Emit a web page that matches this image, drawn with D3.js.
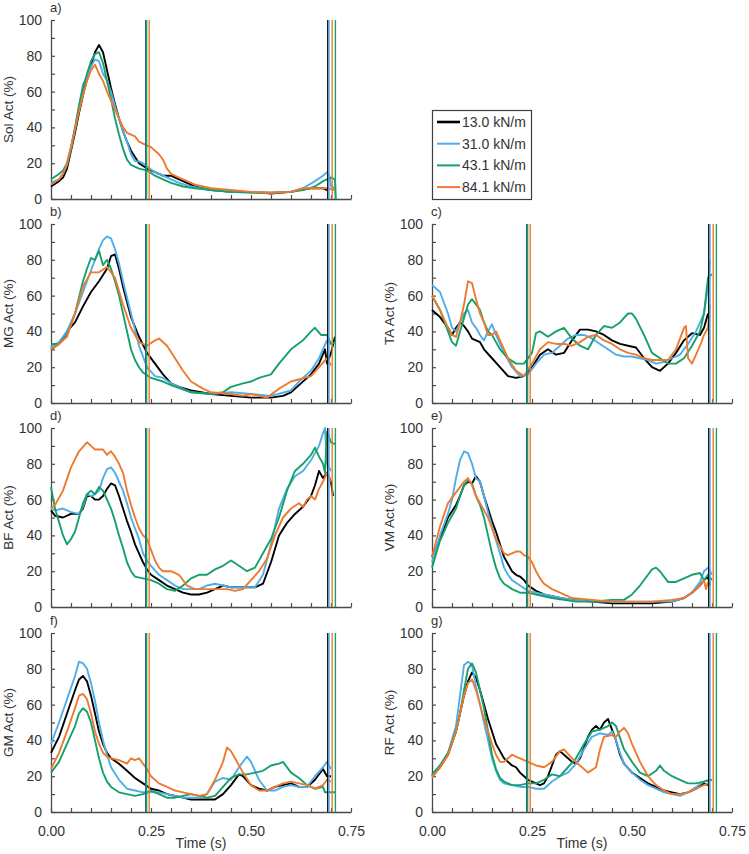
<!DOCTYPE html>
<html><head><meta charset="utf-8">
<script src="https://cdn.jsdelivr.net/npm/d3@7"></script>
<style>body{margin:0;background:#fff}svg{display:block;font-family:"Liberation Sans",Arial,sans-serif}</style>
</head><body><svg id="c" width="749" height="854"></svg>
<script>
// ---- series (legend) ----
const seriesNames = ["13.0 kN/m","31.0 kN/m","43.1 kN/m","84.1 kN/m"];
const seriesColors = ["#000000","#4FAEE9","#16A06A","#EE7A30"];
// vertical event lines (s) per series
const eventA = [0.237,0.238,0.239,0.2455];
const eventB = [0.692,0.695,0.711,0.703];
const xTickLabels = [0,0.25,0.5,0.75];

// ---- Sol ----
const sol13=[[0,7],[0.02,10],[0.03,12],[0.04,17],[0.05,27],[0.06,37],[0.07,48],[0.08,58],[0.09,67],[0.10,75],[0.11,82],[0.12,86],[0.13,82],[0.14,72],[0.15,62],[0.16,53],[0.17,45],[0.18,38],[0.19,32],[0.20,27],[0.22,20],[0.24,17],[0.26,15],[0.28,13],[0.30,13],[0.32,11],[0.34,9],[0.36,7],[0.40,5],[0.45,4],[0.50,4],[0.55,3],[0.60,4],[0.62,5],[0.65,6],[0.68,6],[0.69,5]];
const sol31=[[0,9],[0.02,11],[0.03,14],[0.04,19],[0.05,28],[0.06,39],[0.07,52],[0.08,64],[0.09,68],[0.10,74],[0.11,78],[0.12,77],[0.13,70],[0.14,66],[0.15,60],[0.16,52],[0.17,45],[0.18,38],[0.19,32],[0.20,25],[0.21,21],[0.22,21],[0.23,20],[0.24,18],[0.26,15],[0.28,13],[0.30,11],[0.32,9],[0.35,7],[0.40,5],[0.45,4],[0.50,4],[0.55,3.5],[0.60,4],[0.63,6],[0.66,10],[0.68,13],[0.69,15],[0.695,14],[0.70,7],[0.71,6]];
const sol43=[[0,11],[0.02,14],[0.03,16],[0.04,20],[0.05,29],[0.06,40],[0.07,52],[0.08,62],[0.09,70],[0.10,77],[0.11,81],[0.12,82],[0.13,76],[0.14,66],[0.15,56],[0.16,45],[0.17,36],[0.18,28],[0.19,22],[0.20,19],[0.22,17],[0.24,16],[0.26,13],[0.28,11],[0.30,9],[0.33,7],[0.36,6],[0.40,5],[0.45,4],[0.50,3.5],[0.55,3.5],[0.60,4],[0.63,5],[0.66,7],[0.68,10],[0.70,12],[0.71,11],[0.712,0]];
const sol84=[[0,8],[0.02,11],[0.03,14],[0.04,20],[0.05,29],[0.06,39],[0.07,49],[0.08,58],[0.09,66],[0.10,72],[0.11,75],[0.12,70],[0.13,66],[0.14,60],[0.15,55],[0.16,50],[0.17,45],[0.18,40],[0.19,37],[0.20,36],[0.21,35],[0.22,32],[0.23,31],[0.24,30],[0.25,29],[0.26,27],[0.27,25],[0.28,22],[0.29,17],[0.30,14],[0.32,12],[0.34,10],[0.36,8],[0.40,6],[0.45,5],[0.50,4],[0.55,3.5],[0.60,4],[0.63,6],[0.66,6],[0.69,6],[0.71,5]];

// ---- MG ----
const mg13=[[0,30],[0.02,33],[0.04,40],[0.06,45],[0.08,54],[0.10,62],[0.12,68],[0.14,75],[0.15,82],[0.16,83],[0.17,75],[0.18,65],[0.20,48],[0.22,37],[0.24,28],[0.26,22],[0.28,16],[0.30,11],[0.32,9],[0.35,7],[0.40,5],[0.45,4],[0.50,3],[0.55,3],[0.58,4],[0.60,6],[0.62,10],[0.65,16],[0.67,22],[0.685,30],[0.69,22],[0.70,28],[0.71,37]];
const mg31=[[0,31],[0.02,34],[0.04,40],[0.06,50],[0.08,62],[0.10,74],[0.12,86],[0.13,91],[0.14,93],[0.15,92],[0.16,86],[0.17,78],[0.18,68],[0.20,50],[0.22,32],[0.24,20],[0.26,15],[0.28,14],[0.30,11],[0.35,6],[0.40,5],[0.45,6],[0.50,5],[0.55,4],[0.60,7],[0.62,12],[0.65,18],[0.67,25],[0.69,35],[0.70,33]];
const mg43=[[0,33],[0.02,33],[0.04,38],[0.06,50],[0.08,68],[0.09,75],[0.10,81],[0.11,80],[0.12,85],[0.13,77],[0.14,80],[0.15,75],[0.16,68],[0.17,60],[0.18,50],[0.19,40],[0.20,30],[0.21,24],[0.22,20],[0.23,17],[0.25,14],[0.28,12],[0.30,10],[0.35,6],[0.40,5],[0.43,6],[0.45,9],[0.48,11],[0.50,12],[0.52,14],[0.55,16],[0.57,22],[0.60,30],[0.63,35],[0.65,40],[0.66,42],[0.675,38],[0.69,38],[0.70,33],[0.71,34]];
const mg84=[[0,30],[0.02,33],[0.04,37],[0.06,50],[0.08,65],[0.10,73],[0.12,73],[0.14,76],[0.16,70],[0.18,55],[0.20,42],[0.22,34],[0.24,32],[0.26,35],[0.27,36],[0.29,32],[0.31,25],[0.33,18],[0.35,12],[0.38,8],[0.40,6],[0.45,5],[0.48,4],[0.50,5],[0.54,3],[0.57,8],[0.60,12],[0.65,15],[0.67,20],[0.69,25],[0.70,21]];

// ---- TA ----
const ta13=[[0,52],[0.02,48],[0.04,42],[0.05,38],[0.06,42],[0.07,45],[0.08,43],[0.09,40],[0.10,36],[0.12,34],[0.13,30],[0.15,25],[0.17,20],[0.19,15],[0.21,14],[0.23,15],[0.25,20],[0.27,27],[0.29,30],[0.31,27],[0.33,28],[0.35,35],[0.37,41],[0.39,41],[0.41,40],[0.43,38],[0.45,35],[0.47,33],[0.49,32],[0.51,31],[0.53,25],[0.55,20],[0.57,18],[0.59,22],[0.61,28],[0.63,35],[0.65,39],[0.67,38],[0.68,42],[0.69,50]];
const ta31=[[0,66],[0.02,62],[0.04,50],[0.05,42],[0.06,40],[0.08,50],[0.09,52],[0.10,45],[0.11,42],[0.12,38],[0.13,35],[0.14,40],[0.15,44],[0.16,38],[0.18,28],[0.20,20],[0.22,15],[0.24,16],[0.26,22],[0.28,27],[0.30,28],[0.32,32],[0.34,36],[0.36,38],[0.38,38],[0.40,36],[0.42,33],[0.44,30],[0.46,27],[0.48,26],[0.50,26],[0.52,25],[0.54,24],[0.56,22],[0.58,23],[0.60,25],[0.62,27],[0.64,33],[0.66,40],[0.67,45],[0.68,50],[0.69,65],[0.695,80]];
const ta43=[[0,60],[0.02,52],[0.04,40],[0.05,34],[0.06,32],[0.07,40],[0.09,55],[0.10,58],[0.11,55],[0.12,52],[0.13,45],[0.14,40],[0.15,38],[0.16,34],[0.17,30],[0.19,25],[0.21,22],[0.23,22],[0.25,28],[0.26,39],[0.27,40],[0.29,37],[0.31,40],[0.33,42],[0.35,36],[0.37,32],[0.39,30],[0.41,38],[0.43,43],[0.45,42],[0.47,45],[0.49,50],[0.50,50],[0.51,47],[0.53,38],[0.55,28],[0.57,25],[0.59,22],[0.61,22],[0.63,25],[0.65,32],[0.67,40],[0.68,50],[0.69,70],[0.70,72]];
const ta84=[[0,60],[0.02,52],[0.04,42],[0.05,38],[0.06,37],[0.07,45],[0.08,55],[0.09,68],[0.10,67],[0.11,58],[0.12,50],[0.13,45],[0.14,38],[0.15,38],[0.16,40],[0.17,35],[0.19,25],[0.21,18],[0.23,15],[0.25,22],[0.27,30],[0.29,34],[0.31,33],[0.33,33],[0.35,32],[0.37,34],[0.39,37],[0.41,38],[0.43,35],[0.45,33],[0.47,30],[0.49,28],[0.51,27],[0.53,25],[0.55,24],[0.57,24],[0.59,24],[0.61,30],[0.63,42],[0.635,43],[0.64,25],[0.65,22],[0.67,32],[0.68,38],[0.69,42],[0.695,55]];

// ---- BF ----
const bf13=[[0,54],[0.01,51],[0.03,50],[0.05,52],[0.07,52],[0.08,55],[0.09,62],[0.10,62],[0.11,60],[0.12,60],[0.13,62],[0.14,66],[0.15,69],[0.16,68],[0.17,62],[0.18,55],[0.19,48],[0.20,42],[0.21,35],[0.22,30],[0.23,25],[0.24,21],[0.25,18],[0.27,15],[0.29,12],[0.31,10],[0.33,8],[0.35,7],[0.37,7],[0.39,8],[0.41,10],[0.43,12],[0.45,11],[0.47,11],[0.49,11],[0.51,11],[0.53,13],[0.55,25],[0.57,40],[0.59,47],[0.61,52],[0.63,56],[0.65,62],[0.66,68],[0.67,76],[0.68,72],[0.69,75],[0.70,70],[0.705,62]];
const bf31=[[0,55],[0.01,54],[0.03,55],[0.05,53],[0.07,52],[0.08,56],[0.09,63],[0.10,62],[0.11,63],[0.12,65],[0.13,72],[0.14,77],[0.15,78],[0.16,75],[0.17,70],[0.18,65],[0.19,58],[0.20,50],[0.21,44],[0.22,38],[0.23,30],[0.24,26],[0.25,23],[0.27,18],[0.29,15],[0.31,12],[0.33,10],[0.35,10],[0.37,10],[0.39,12],[0.41,13],[0.43,12],[0.45,11],[0.47,11],[0.49,11],[0.51,11],[0.53,18],[0.55,35],[0.57,55],[0.59,66],[0.61,73],[0.63,76],[0.65,82],[0.67,90],[0.68,97],[0.685,100],[0.69,80],[0.70,76]];
const bf43=[[0,67],[0.01,55],[0.03,40],[0.04,35],[0.05,38],[0.06,42],[0.07,50],[0.08,58],[0.09,63],[0.10,65],[0.11,63],[0.12,67],[0.13,65],[0.14,60],[0.15,55],[0.16,48],[0.17,40],[0.18,33],[0.19,25],[0.20,20],[0.21,17],[0.23,16],[0.25,15],[0.27,13],[0.29,10],[0.31,9],[0.33,12],[0.35,16],[0.37,18],[0.39,18],[0.41,21],[0.43,23],[0.45,26],[0.47,23],[0.49,20],[0.51,22],[0.53,30],[0.55,38],[0.57,50],[0.59,65],[0.61,76],[0.63,80],[0.65,85],[0.66,89],[0.67,84],[0.68,80],[0.685,75],[0.69,98],[0.70,92],[0.71,91]];
const bf84=[[0,55],[0.01,57],[0.03,65],[0.05,78],[0.07,87],[0.09,92],[0.10,90],[0.11,88],[0.13,88],[0.14,85],[0.15,87],[0.16,84],[0.17,80],[0.18,75],[0.19,65],[0.20,57],[0.21,50],[0.22,44],[0.23,40],[0.24,38],[0.25,32],[0.26,26],[0.27,22],[0.28,20],[0.30,20],[0.32,18],[0.34,12],[0.36,10],[0.38,10],[0.40,10],[0.42,10],[0.44,10],[0.46,9],[0.48,10],[0.50,15],[0.52,20],[0.54,27],[0.56,40],[0.58,50],[0.60,55],[0.62,58],[0.63,56],[0.64,60],[0.65,62],[0.66,60],[0.67,66],[0.68,70],[0.69,75],[0.70,70]];

// ---- VM ----
const vm13=[[0,28],[0.02,38],[0.04,50],[0.06,57],[0.07,62],[0.08,68],[0.09,70],[0.10,69],[0.11,73],[0.12,70],[0.13,62],[0.14,55],[0.15,48],[0.16,42],[0.17,35],[0.18,28],[0.19,24],[0.20,20],[0.21,18],[0.22,17],[0.23,15],[0.24,12],[0.26,9],[0.28,7],[0.30,6],[0.32,5],[0.35,4],[0.40,3],[0.45,2],[0.50,2],[0.55,2],[0.60,3],[0.63,5],[0.65,8],[0.67,12],[0.68,15],[0.69,17],[0.695,12]];
const vm31=[[0,25],[0.02,40],[0.04,52],[0.05,60],[0.06,72],[0.07,82],[0.08,87],[0.09,86],[0.10,80],[0.11,72],[0.12,70],[0.13,62],[0.14,53],[0.15,45],[0.16,37],[0.17,30],[0.18,22],[0.19,18],[0.20,15],[0.22,12],[0.24,9],[0.26,8],[0.28,7],[0.30,6],[0.35,4],[0.40,3],[0.45,3],[0.50,3],[0.55,3],[0.60,3],[0.63,5],[0.65,8],[0.67,14],[0.68,20],[0.69,22],[0.70,18]];
const vm43=[[0,22],[0.02,37],[0.04,47],[0.06,55],[0.07,62],[0.08,68],[0.09,71],[0.10,69],[0.11,62],[0.12,57],[0.13,50],[0.14,40],[0.15,30],[0.16,22],[0.17,16],[0.18,13],[0.20,10],[0.22,8],[0.24,8],[0.26,7],[0.28,6],[0.30,5],[0.33,4],[0.36,3],[0.40,3],[0.45,4],[0.48,4],[0.50,7],[0.52,12],[0.54,18],[0.55,21],[0.56,22],[0.57,20],[0.58,17],[0.59,14],[0.61,14],[0.63,16],[0.65,18],[0.67,19],[0.68,15],[0.69,18],[0.70,15]];
const vm84=[[0,28],[0.02,45],[0.04,58],[0.06,64],[0.08,70],[0.09,72],[0.10,68],[0.11,62],[0.12,58],[0.13,54],[0.14,50],[0.15,44],[0.16,38],[0.17,34],[0.18,30],[0.19,29],[0.20,30],[0.21,31],[0.22,31],[0.23,29],[0.24,28],[0.25,25],[0.26,20],[0.27,16],[0.28,13],[0.30,10],[0.32,8],[0.35,5],[0.40,4],[0.45,3],[0.50,3],[0.55,3],[0.60,4],[0.63,5],[0.65,8],[0.67,12],[0.68,15],[0.685,10],[0.69,14]];

// ---- GM ----
const gm13=[[0,33],[0.02,42],[0.04,55],[0.06,68],[0.07,74],[0.08,76],[0.09,73],[0.10,65],[0.11,55],[0.12,45],[0.13,38],[0.14,33],[0.15,30],[0.17,27],[0.19,23],[0.21,19],[0.23,16],[0.25,13],[0.27,12],[0.29,10],[0.31,9],[0.33,8],[0.35,7],[0.38,7],[0.41,7],[0.43,10],[0.45,15],[0.47,21],[0.48,20],[0.50,15],[0.52,13],[0.54,12],[0.56,14],[0.58,15],[0.60,16],[0.62,14],[0.64,14],[0.66,18],[0.68,24],[0.69,20],[0.70,20]];
const gm31=[[0,38],[0.02,50],[0.04,63],[0.06,76],[0.07,84],[0.08,83],[0.09,80],[0.10,72],[0.11,62],[0.12,50],[0.13,40],[0.14,32],[0.15,25],[0.17,18],[0.19,13],[0.21,12],[0.23,11],[0.25,11],[0.27,11],[0.29,10],[0.31,9],[0.33,8],[0.35,8],[0.37,8],[0.39,10],[0.41,17],[0.43,19],[0.45,18],[0.47,25],[0.49,31],[0.50,28],[0.52,18],[0.54,12],[0.56,12],[0.58,14],[0.60,15],[0.62,14],[0.64,14],[0.66,20],[0.68,25],[0.69,28],[0.70,24]];
const gm43=[[0,22],[0.02,28],[0.04,38],[0.06,48],[0.07,55],[0.08,58],[0.09,56],[0.10,50],[0.11,40],[0.12,30],[0.13,22],[0.14,17],[0.15,14],[0.17,11],[0.19,10],[0.21,9],[0.23,10],[0.25,12],[0.27,10],[0.29,8],[0.31,8],[0.33,9],[0.35,10],[0.37,9],[0.39,8],[0.41,9],[0.43,14],[0.45,19],[0.47,21],[0.49,21],[0.51,22],[0.53,23],[0.55,26],[0.57,27],[0.58,28],[0.60,22],[0.62,19],[0.64,15],[0.66,13],[0.68,14],[0.685,11],[0.70,11],[0.71,11]];
const gm84=[[0,24],[0.02,33],[0.04,45],[0.06,58],[0.07,65],[0.08,66],[0.09,63],[0.10,55],[0.11,45],[0.12,38],[0.13,33],[0.14,31],[0.15,30],[0.17,29],[0.19,27],[0.20,30],[0.21,29],[0.22,30],[0.23,27],[0.24,24],[0.25,20],[0.27,16],[0.29,14],[0.31,12],[0.33,11],[0.35,10],[0.37,9],[0.39,10],[0.41,18],[0.43,28],[0.44,36],[0.45,34],[0.46,30],[0.48,22],[0.50,15],[0.52,12],[0.54,12],[0.56,14],[0.58,16],[0.60,17],[0.62,16],[0.64,15],[0.66,13],[0.68,15],[0.69,18],[0.70,17]];

// ---- RF ----
const rf13=[[0,20],[0.02,25],[0.04,32],[0.06,45],[0.07,55],[0.08,65],[0.09,73],[0.10,78],[0.11,75],[0.12,68],[0.13,60],[0.14,52],[0.15,45],[0.16,38],[0.17,34],[0.18,30],[0.19,28],[0.20,26],[0.21,25],[0.22,22],[0.23,20],[0.24,18],[0.25,17],[0.26,16],[0.27,15],[0.28,16],[0.29,20],[0.30,26],[0.31,32],[0.32,34],[0.33,32],[0.34,30],[0.35,28],[0.36,27],[0.37,30],[0.38,36],[0.39,42],[0.40,46],[0.41,48],[0.42,46],[0.43,50],[0.44,52],[0.45,46],[0.46,40],[0.47,32],[0.48,27],[0.50,22],[0.52,19],[0.54,16],[0.56,14],[0.58,12],[0.60,11],[0.62,10],[0.64,11],[0.66,13],[0.68,16],[0.69,15]];
const rf31=[[0,20],[0.02,26],[0.04,33],[0.06,48],[0.07,65],[0.08,82],[0.09,84],[0.10,82],[0.11,70],[0.12,60],[0.13,50],[0.14,40],[0.15,30],[0.16,23],[0.17,18],[0.18,16],[0.20,15],[0.22,14],[0.24,14],[0.26,13],[0.28,13],[0.30,17],[0.32,20],[0.34,22],[0.36,27],[0.38,35],[0.40,42],[0.42,44],[0.44,43],[0.45,45],[0.46,40],[0.47,33],[0.48,27],[0.50,22],[0.52,18],[0.54,15],[0.56,13],[0.58,11],[0.60,10],[0.62,9],[0.64,11],[0.66,14],[0.68,17],[0.69,18]];
const rf43=[[0,21],[0.02,26],[0.04,33],[0.06,45],[0.07,55],[0.08,68],[0.09,80],[0.10,83],[0.11,78],[0.12,68],[0.13,58],[0.14,45],[0.15,32],[0.16,24],[0.17,19],[0.18,17],[0.20,15],[0.22,15],[0.24,16],[0.26,16],[0.28,18],[0.30,21],[0.32,20],[0.34,25],[0.36,30],[0.38,38],[0.40,45],[0.42,46],[0.44,48],[0.45,50],[0.46,48],[0.48,35],[0.50,28],[0.52,22],[0.54,20],[0.56,23],[0.57,26],[0.58,23],[0.60,20],[0.62,18],[0.64,16],[0.66,16],[0.68,17],[0.70,18]];
const rf84=[[0,19],[0.02,25],[0.04,32],[0.06,45],[0.07,55],[0.08,65],[0.09,72],[0.10,74],[0.11,68],[0.12,60],[0.13,52],[0.14,45],[0.15,38],[0.16,32],[0.17,28],[0.18,28],[0.19,30],[0.20,32],[0.21,31],[0.22,30],[0.24,28],[0.26,26],[0.28,25],[0.30,28],[0.32,34],[0.33,35],[0.35,30],[0.37,26],[0.39,22],[0.41,25],[0.42,35],[0.43,42],[0.45,43],[0.46,42],[0.47,45],[0.48,47],[0.49,44],[0.50,38],[0.52,28],[0.54,20],[0.56,15],[0.58,12],[0.60,10],[0.62,10],[0.64,11],[0.66,13],[0.68,15],[0.69,16]];

const panels = [
  {tag:"a)", ylab:"Sol Act (%)", col:0, row:0, data:[sol13,sol31,sol43,sol84]},
  {tag:"b)", ylab:"MG Act (%)", col:0, row:1, data:[mg13,mg31,mg43,mg84]},
  {tag:"c)", ylab:"TA Act (%)", col:1, row:1, data:[ta13,ta31,ta43,ta84]},
  {tag:"d)", ylab:"BF Act (%)", col:0, row:2, data:[bf13,bf31,bf43,bf84]},
  {tag:"e)", ylab:"VM Act (%)", col:1, row:2, data:[vm13,vm31,vm43,vm84]},
  {tag:"f)", ylab:"GM Act (%)", col:0, row:3, data:[gm13,gm31,gm43,gm84]},
  {tag:"g)", ylab:"RF Act (%)", col:1, row:3, data:[rf13,rf31,rf43,rf84]}
];

const colX = [51, 432], rowTop = [20, 224, 428, 633];
const PW = 300, PH = 179;
const axisColor = "#4a4a4a", textColor = "#333";
const svg = d3.select("#c");

panels.forEach(p => {
  const x0 = colX[p.col], top = rowTop[p.row];
  const x = d3.scaleLinear().domain([0,0.75]).range([x0, x0+PW]);
  const y = d3.scaleLinear().domain([0,100]).range([top+PH, top]);
  const g = svg.append("g");
  const bottomRow = p.row === 3;

  // x axis
  const xa = d3.axisBottom(x).tickValues(d3.range(0,16).map(i=>i*0.05))
    .tickSizeInner(-4).tickSizeOuter(0).tickPadding(14)
    .tickFormat(d => bottomRow && xTickLabels.some(v=>Math.abs(v-d)<1e-6) ? d3.format(".2f")(d) : "");
  const gx = g.append("g").attr("transform",`translate(0,${top+PH})`).call(xa);
  // y axis
  const ya = d3.axisLeft(y).tickValues(d3.range(0,11).map(i=>i*10))
    .tickSizeInner(-4).tickSizeOuter(0).tickPadding(9)
    .tickFormat(d => d%20===0 ? d : "");
  const gy = g.append("g").attr("transform",`translate(${x0},0)`).call(ya);
  [gx,gy].forEach(a=>{
    a.select(".domain").attr("stroke",axisColor).attr("stroke-width",1.3);
    a.selectAll(".tick line").attr("stroke",axisColor).attr("stroke-width",1.2);
    a.selectAll("text").attr("fill",textColor).style("font-size","14px").style("font-family","Liberation Sans, Arial, sans-serif");
  });

  // data lines
  const line = d3.line().x(d=>x(d[0])).y(d=>y(d[1]));
  p.data.forEach((s,i)=>{
    g.append("path").attr("d",line(s)).attr("fill","none")
      .attr("stroke",seriesColors[i]).attr("stroke-width",1.9).attr("stroke-linejoin","round");
  });
  // event lines
  [eventA,eventB].forEach(ev=>{
    ev.forEach((t,i)=>{
      g.append("line").attr("x1",x(t)).attr("x2",x(t)).attr("y1",y(100)).attr("y2",y(0))
        .attr("stroke",seriesColors[i]).attr("stroke-width",1.4);
    });
  });

  // panel tag
  g.append("text").attr("x",x0-1).attr("y",top-8).text(p.tag)
    .attr("fill",textColor).style("font-size","13px");
  // y label
  g.append("text").attr("transform",`translate(${x0-38},${top+PH/2}) rotate(-90)`)
    .attr("text-anchor","middle").attr("fill",textColor).style("font-size","13.5px").text(p.ylab);
  if (bottomRow) {
    g.append("text").attr("x",x0+PW/2).attr("y",848).attr("text-anchor","middle")
      .attr("fill",textColor).style("font-size","14px").text("Time (s)");
  }
});

// legend
const lg = svg.append("g");
const lx = 432, ly = 110, lw = 99, lh = 89;
lg.append("rect").attr("x",lx+0.5).attr("y",ly+0.5).attr("width",lw).attr("height",lh)
  .attr("fill","#fff").attr("stroke","#404040").attr("stroke-width",1.2);
seriesNames.forEach((n,i)=>{
  const yy = ly + 12 + i*21.7;
  lg.append("line").attr("x1",lx+5).attr("x2",lx+28).attr("y1",yy).attr("y2",yy)
    .attr("stroke",seriesColors[i]).attr("stroke-width",i===0?2.6:2);
  lg.append("text").attr("x",lx+30).attr("y",yy+5).text(n)
    .attr("fill",textColor).style("font-size","14px");
});
</script></body></html>
